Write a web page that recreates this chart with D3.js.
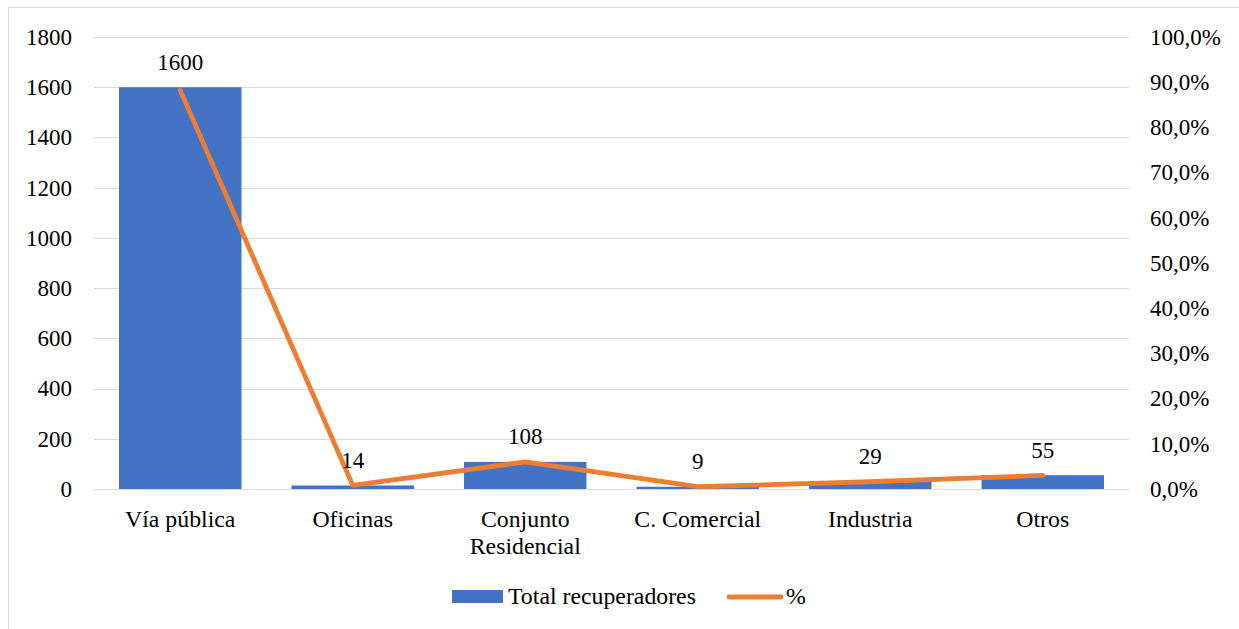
<!DOCTYPE html>
<html><head><meta charset="utf-8">
<script src="https://cdn.jsdelivr.net/npm/d3@7"></script>
<style>body{margin:0;background:#fff}svg{display:block}</style>
</head><body><svg id="c" width="1239" height="629"></svg>
<script>
const categories = ["Vía pública","Oficinas","Conjunto Residencial","C. Comercial","Industria","Otros"];
const totals = [1600,14,108,9,29,55];
const percents = [88.2,0.8,6.0,0.5,1.6,3.0];
const leftTicks = [0,200,400,600,800,1000,1200,1400,1600,1800];
const rightTicks = [0,10,20,30,40,50,60,70,80,90,100];
const seriesNames = ["Total recuperadores","%"];

const svg = d3.select("#c");
const font = "'Liberation Serif','Times New Roman',serif";
const fs = 23;
const fs2 = 23.8;
const m = {l:94, r:1129, t:37, b:489};

svg.append("rect").attr("x",8.5).attr("y",7.5).attr("width",1240).attr("height",640)
  .attr("fill","#fff").attr("stroke","#d9d9d9").attr("stroke-width",1);

const x = d3.scaleBand().domain(categories).range([m.l,m.r]).paddingInner(0.29).paddingOuter(0.145);
const xc = d3.scalePoint().domain(categories).range([m.l,m.r]).padding(0.5);
const yL = d3.scaleLinear().domain([0,1800]).range([m.b,m.t]);
const yR = d3.scaleLinear().domain([0,100]).range([m.b,m.t]);

// gridlines
svg.append("g").selectAll("line").data(leftTicks).join("line")
  .attr("x1",m.l).attr("x2",m.r)
  .attr("y1",d=>Math.round(yL(d))+0.5).attr("y2",d=>Math.round(yL(d))+0.5)
  .attr("stroke","#d9d9d9").attr("stroke-width",1);

// left axis labels
const la = svg.append("g").attr("transform",`translate(${m.l},0)`)
  .call(d3.axisLeft(yL).tickValues(leftTicks).tickSize(0).tickPadding(22).tickFormat(d3.format("d")));
la.select(".domain").remove();
la.selectAll("text").attr("font-family",font).attr("font-size",fs).attr("fill","#000");

// right axis labels
const ra = svg.append("g").attr("transform",`translate(${m.r},0)`)
  .call(d3.axisRight(yR).tickValues(rightTicks).tickSize(0).tickPadding(21)
    .tickFormat(d=>d.toFixed(1).replace(".",",")+"%"));
ra.select(".domain").remove();
ra.selectAll("text").attr("font-family",font).attr("font-size",fs).attr("fill","#000");

// bars
svg.append("g").selectAll("rect").data(categories).join("rect")
  .attr("x",d=>x(d)).attr("width",x.bandwidth())
  .attr("y",(d,i)=>yL(totals[i])).attr("height",(d,i)=>yL(0)-yL(totals[i]))
  .attr("fill","#4472C4");

// line
const line = d3.line().x((d,i)=>xc(categories[i])).y(d=>yR(d));
svg.append("path").datum(percents).attr("d",line)
  .attr("fill","none").attr("stroke","#ED7D31").attr("stroke-width",4.8)
  .attr("stroke-linejoin","round").attr("stroke-linecap","round");

// data labels
svg.append("g").selectAll("text").data(categories).join("text")
  .attr("x",d=>xc(d)).attr("y",(d,i)=>yL(totals[i])-17.5)
  .attr("text-anchor","middle").attr("font-family",font).attr("font-size",fs).attr("fill","#000")
  .text((d,i)=>totals[i]);

// category labels
const cl = svg.append("g").selectAll("text").data(categories).join("text")
  .attr("x",d=>xc(d)).attr("y",527)
  .attr("text-anchor","middle").attr("font-family",font).attr("font-size",fs2).attr("fill","#000");
cl.each(function(d){
  const words = d === "Conjunto Residencial" ? ["Conjunto","Residencial"] : [d];
  d3.select(this).selectAll("tspan").data(words).join("tspan")
    .attr("x",xc(d)).attr("dy",(w,i)=>i===0?0:27).text(w=>w);
});

// legend
const lg = svg.append("g");
lg.append("rect").attr("x",452).attr("y",590).attr("width",51).attr("height",13).attr("fill","#4472C4");
lg.append("text").attr("x",508).attr("y",604).attr("font-family",font).attr("font-size",fs2).text(seriesNames[0]);
lg.append("line").attr("x1",729).attr("x2",781).attr("y1",597).attr("y2",597)
  .attr("stroke","#ED7D31").attr("stroke-width",4.8).attr("stroke-linecap","round");
lg.append("text").attr("x",786).attr("y",604).attr("font-family",font).attr("font-size",fs2).text(seriesNames[1]);
</script></body></html>
